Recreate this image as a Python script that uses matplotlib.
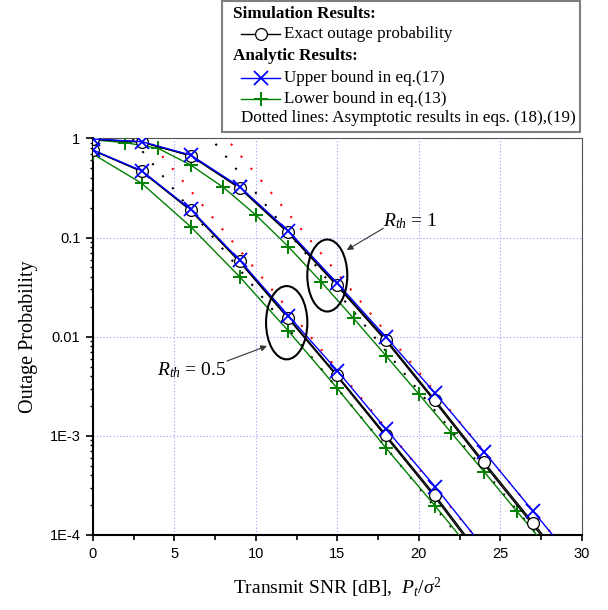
import numpy as np
import matplotlib
matplotlib.use("Agg")
import matplotlib.pyplot as plt
from matplotlib.patches import Ellipse, Rectangle
from matplotlib.lines import Line2D
from matplotlib.ticker import FixedLocator, NullFormatter

plt.rcParams['mathtext.fontset'] = 'custom'
plt.rcParams['mathtext.rm'] = 'Liberation Serif'
plt.rcParams['mathtext.it'] = 'Liberation Serif:italic'
plt.rcParams['mathtext.bf'] = 'Liberation Serif:bold'

# ---------------- data ----------------
snr_3db = [0, 3, 6, 9, 12, 15, 18, 21, 24]
snr_3db_r1 = [0, 3, 6, 9, 12, 15, 18, 21, 24, 27, 30]
snr_2db_r1 = [0, 2, 4, 6, 8, 10, 12, 14, 16, 18, 20, 22, 24, 26, 28]

# R_th = 0.5
exact_sim_r05 = [0.762, 0.468, 0.191, 0.0581, 0.0156, 4.07e-3, 1.01e-3, 2.51e-4, 5.6e-5]
exact_ana_r05 = [0.760, 0.464, 0.188, 0.0570, 0.0152, 3.95e-3, 9.7e-4, 2.39e-4, 5.3e-5]
upper_r05 = [0.766, 0.473, 0.193, 0.0594, 0.0163, 4.54e-3, 1.16e-3, 3.07e-4, 7.4e-5]
lower_r05 = [0.698, 0.353, 0.129, 0.0404, 0.0114, 3.01e-3, 7.48e-4, 1.96e-4, 4.9e-5]

# R_th = 1
exact_sim_r1 = [0.985, 0.922, 0.673, 0.320, 0.1135, 0.0333, 9.33e-3, 2.29e-3, 5.43e-4, 1.33e-4, 3.2e-5]
exact_ana_r1 = [0.984, 0.920, 0.668, 0.316, 0.111, 0.0324, 9.0e-3, 2.19e-3, 5.17e-4, 1.26e-4, 3.0e-5]
upper_r1 = [0.988, 0.929, 0.682, 0.327, 0.1167, 0.0346, 9.86e-3, 2.69e-3, 6.92e-4, 1.74e-4, 4.4e-5]
lower_r1 = [0.97, 0.908, 0.796, 0.541, 0.322, 0.169, 0.0809, 0.0359, 0.0153,
            6.38e-3, 2.64e-3, 1.07e-3, 4.35e-4, 1.74e-4, 7.1e-5]

# asymptotic (dotted) lines: values at the two ends of the x range
asym_snr = [0, 30]
asym_lower_r05 = [3.02, 3.0e-6]
asym_upper_r05 = [4.73, 4.7e-6]
asym_lower_r1 = [28.3, 2.83e-5]
asym_upper_r1 = [43.8, 4.38e-5]

xticks = [0, 5, 10, 15, 20, 25, 30]
yticks = [1, 0.1, 0.01, 1e-3, 1e-4]
yticklabels = ['1', '0.1', '0.01', '1E-3', '1E-4']

W, H = 608, 610
def fx(px):
    return px / W
def fy(py):
    return 1 - py / H

fig = plt.figure(figsize=(W / 100, H / 100), dpi=100)
ax_l, ax_r, ax_t, ax_b = 92.8, 581.8, 138.5, 534.9
ax = fig.add_axes([fx(ax_l), fy(ax_b), (ax_r - ax_l) / W, (ax_b - ax_t) / H])
ax.set_yscale('log')
ax.set_xlim(0, 30)
ax.set_ylim(1e-4, 1)

# grid
ax.grid(True, which='major', color='#9a9aff', linestyle=(0, (1, 2)), lw=0.8)
ax.set_axisbelow(True)

dot_style = (0, (1, 6.5))
ms_o, ms_x, ms_p = 8.5, 10, 10

for xs, exs, exa, up, xs_l, lo, al, au in [
        (snr_3db, exact_sim_r05, exact_ana_r05, upper_r05, snr_3db, lower_r05,
         asym_lower_r05, asym_upper_r05),
        (snr_3db_r1, exact_sim_r1, exact_ana_r1, upper_r1, snr_2db_r1, lower_r1,
         asym_lower_r1, asym_upper_r1)]:
    ax.plot(asym_snr, al, color='black', lw=1.5, linestyle=dot_style, zorder=2)
    ax.plot(asym_snr, au, color='red', lw=1.5, linestyle=dot_style, zorder=2)
    ax.plot(xs_l, lo, color='green', lw=1.0, marker='+', ms=ms_p, mew=1.4,
            mec='green', zorder=3)
    ax.plot(xs, exa, color='black', lw=1.0, zorder=3.5)
    ax.plot(xs, exs, color='black', lw=1.0, marker='o', ms=ms_o, mfc='white',
            mec='black', mew=0.9, zorder=4)
    ax.plot(xs, up, color='blue', lw=1.0, marker='x', ms=ms_x, mew=1.3,
            mec='blue', zorder=5)

# ticks
ax.xaxis.set_major_locator(FixedLocator(xticks))
ax.xaxis.set_minor_locator(FixedLocator([2.5, 7.5, 12.5, 17.5, 22.5, 27.5]))
ax.yaxis.set_major_locator(FixedLocator(yticks))
ax.set_yticklabels(yticklabels)
minors = [m * 10.0 ** e for e in range(-4, 0) for m in range(2, 10)]
ax.yaxis.set_minor_locator(FixedLocator(minors))
ax.yaxis.set_minor_formatter(NullFormatter())
for lab in ax.get_xticklabels() + ax.get_yticklabels():
    lab.set_fontfamily('Liberation Sans')
    lab.set_fontsize(10.5)
ax.tick_params(axis='x', which='major', direction='out', length=4.5, width=1.2, pad=4)
ax.tick_params(axis='x', which='minor', direction='out', length=3.5, width=1.2)
ax.tick_params(axis='y', which='major', direction='out', length=5, width=1.2, pad=4)
ax.tick_params(axis='y', which='minor', direction='out', length=2.2, width=1.0)
ax.tick_params(top=False, right=False, which='both')

ax.spines['left'].set_linewidth(1.5)
ax.spines['bottom'].set_linewidth(1.5)
ax.spines['top'].set_linewidth(0.8)
ax.spines['right'].set_linewidth(0.8)
ax.spines['top'].set_color('#555555')
ax.spines['right'].set_color('#555555')

ax.set_xlabel('Transmit SNR [dB],  $P_t/\\sigma^2$', family='Liberation Serif',
              fontsize=14, labelpad=11)
ax.set_ylabel('Outage Probability', family='Liberation Serif', fontsize=14.5, labelpad=8)

# ellipses and annotations
def axf(px, py):
    return ((px - ax_l) / (ax_r - ax_l), (ax_b - py) / (ax_b - ax_t))

for cx, cy, w, h in [(327.3, 275.5, 40, 72), (286.7, 322.7, 41.3, 73.3)]:
    c = axf(cx, cy)
    ax.add_patch(Ellipse(c, w / (ax_r - ax_l), h / (ax_b - ax_t), transform=ax.transAxes,
                         fill=False, ec='black', lw=1.5, zorder=6))

ax.text(*axf(192, 370), '$R_{th}$ = 0.5', transform=ax.transAxes, ha='center', va='center',
        family='Liberation Serif', fontsize=14)
ax.annotate('', xy=axf(267, 346), xytext=axf(227, 361), xycoords='axes fraction',
            textcoords='axes fraction',
            arrowprops=dict(arrowstyle='-|>', lw=0.8, color='#333333', mutation_scale=9,
                            shrinkA=0, shrinkB=0))
ax.text(*axf(410, 221), '$R_{th}$ = 1', transform=ax.transAxes, ha='center', va='center',
        family='Liberation Serif', fontsize=14)
ax.annotate('', xy=axf(346.7, 250), xytext=axf(383.3, 228.3), xycoords='axes fraction',
            textcoords='axes fraction',
            arrowprops=dict(arrowstyle='-|>', lw=0.8, color='#333333', mutation_scale=9,
                            shrinkA=0, shrinkB=0))

# legend box drawn manually
fig.add_artist(Rectangle((fx(222), fy(132)), (580 - 222) / W, 131 / H,
                         transform=fig.transFigure, fill=True, fc='white',
                         ec='#7f7f7f', lw=1.5, zorder=10))
tk = dict(family='Liberation Serif', fontsize=12.3, va='center', ha='left', zorder=11)
fig.text(fx(233), fy(14), 'Simulation Results:', weight='bold', **tk)
fig.text(fx(284), fy(33.5), 'Exact outage probability', **tk)
fig.text(fx(233), fy(56.5), 'Analytic Results:', weight='bold', **tk)
fig.text(fx(284), fy(78.3), 'Upper bound in eq.(17)', **tk)
fig.text(fx(284), fy(98.7), 'Lower bound in eq.(13)', **tk)
fig.text(fx(241), fy(118.5), 'Dotted lines: Asymptotic results in eqs. (18),(19)', **tk)

for py, col, mk, ms, mfc, mew in [(33.5, 'black', 'o', ms_o, 'white', 0.9),
                                  (78.3, 'blue', 'x', ms_x, 'blue', 1.3),
                                  (98.7, 'green', '+', ms_p, 'green', 1.4)]:
    fig.add_artist(Line2D([fx(241), fx(280)], [fy(py), fy(py)], color=col, lw=1.0,
                          transform=fig.transFigure, zorder=11))
    fig.add_artist(Line2D([fx(261)], [fy(py)], color=col, marker=mk, ms=ms, mfc=mfc,
                          mec=col, mew=mew, transform=fig.transFigure, zorder=12))

fig.savefig('out.png', dpi=100)
